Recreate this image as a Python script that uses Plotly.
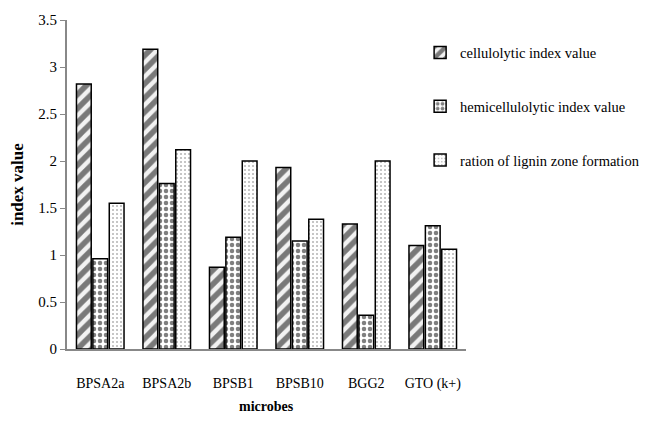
import plotly.graph_objects as go

categories = ["BPSA2a", "BPSA2b", "BPSB1", "BPSB10", "BGG2", "GTO (k+)"]
cellulolytic = [2.82, 3.19, 0.87, 1.93, 1.33, 1.10]
hemicellulolytic = [0.96, 1.76, 1.19, 1.15, 0.36, 1.31]
lignin = [1.55, 2.12, 2.00, 1.38, 2.00, 1.06]
series_names = ["cellulolytic index value", "hemicellulolytic index value", "ration of lignin zone formation"]

SERIF = "Liberation Serif"

fig = go.Figure()
fig.add_trace(go.Bar(
    x=categories, y=cellulolytic, name=series_names[0], legendgroup="a",
    marker=dict(color="white", line=dict(color="black", width=1.5),
                pattern=dict(shape="/", fgcolor="black", bgcolor="#f2f2f2", size=10, solidity=0.55)),
))
fig.add_trace(go.Bar(
    x=categories, y=hemicellulolytic, name=series_names[1], legendgroup="b",
    marker=dict(color="white", line=dict(color="black", width=1.5),
                pattern=dict(shape=".", fgcolor="black", bgcolor="white", size=6, solidity=0.45)),
))
fig.add_trace(go.Bar(
    x=categories, y=lignin, name=series_names[2], legendgroup="c",
    marker=dict(color="white", line=dict(color="black", width=1.5),
                pattern=dict(shape=".", fgcolor="#666666", bgcolor="white", size=4, solidity=0.2)),
))

fig.add_annotation(
    text="<b>microbes</b>", xref="paper", yref="paper", x=0.5, y=-0.176,
    xanchor="center", yanchor="middle", showarrow=False,
    font=dict(family=SERIF, size=14, color="black"),
)

fig.update_layout(
    width=650, height=415,
    margin=dict(l=59, r=192, t=12, b=74),
    paper_bgcolor="white", plot_bgcolor="white",
    barmode="group", bargap=0.26, bargroupgap=0.1,
    font=dict(family=SERIF, color="black", size=13),
    showlegend=True,
    legend=dict(x=0.885, xanchor="left", y=0.95, yanchor="top",
                font=dict(family=SERIF, size=14.5, color="black"),
                tracegroupgap=32, itemwidth=30, bgcolor="rgba(0,0,0,0)"),
    xaxis=dict(
        showline=True, linecolor="#888888", linewidth=2, ticks="",
        ticklabelstandoff=20, tickfont=dict(family=SERIF, size=14),
        automargin=False,
    ),
    yaxis=dict(
        range=[0, 3.5], dtick=0.5, showgrid=False, zeroline=False,
        showline=True, linecolor="#888888", linewidth=2,
        ticks="outside", ticklen=5, tickcolor="#888888",
        tickfont=dict(family=SERIF, size=15),
        title=dict(text="<b>index value</b>", font=dict(family=SERIF, size=17), standoff=12),
        automargin=False,
    ),
)

fig.write_html("out.html")
